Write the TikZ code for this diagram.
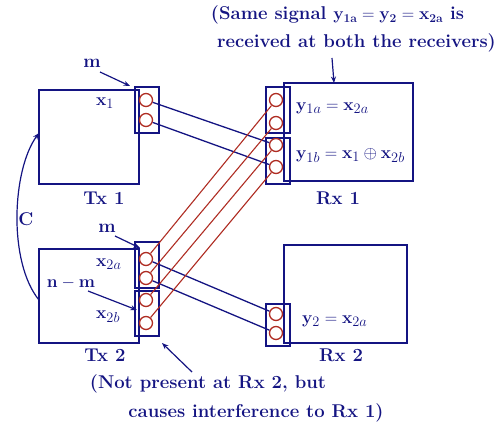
\documentclass[tikz,border=0pt]{standalone}
\usetikzlibrary{arrows.meta}
\definecolor{nav}{RGB}{20,20,130}
\definecolor{antc}{RGB}{175,45,35}
\begin{document}
\begin{tikzpicture}[x=1pt,y=-1pt,
  box/.style={draw=nav, line width=1.4pt, inner sep=0pt},
  antbox/.style={draw=nav, line width=1.4pt, minimum width=24pt, inner sep=0pt},
  ant/.style={circle, draw=antc, line width=1.3pt, minimum size=13pt, inner sep=0pt},
  lbl/.style={text=nav, font=\fontsize{18.5}{22}\selectfont\bfseries, inner sep=0pt},
  mlbl/.style={text=nav, font=\fontsize{19}{23}\selectfont\bfseries, inner sep=0pt, anchor=west},
  link/.style={draw=nav, line width=1.3pt},
  xlink/.style={draw=antc, line width=1.1pt},
  arr/.style={draw=nav, line width=1.2pt, -{Stealth[length=6.5pt,width=5pt]}}]
\useasboundingbox (0,0) rectangle (502,433);
% main boxes
\node[box, minimum width=100pt, minimum height=94pt] (tx1) at (89,137) {};
\node[box, minimum width=100pt, minimum height=94pt] (tx2) at (89,296) {};
\node[box, minimum width=129pt, minimum height=98pt] (rx1) at (348.5,132) {};
\node[box, minimum width=123pt, minimum height=98pt] (rx2) at (345.5,294) {};
% antenna boxes
\node[antbox, minimum height=46pt] (at1) at (147,110) {};
\node[antbox, minimum height=46pt] (at2a) at (147,265) {};
\node[antbox, minimum height=45pt] (at2b) at (147,313.5) {};
\node[antbox, minimum height=46pt] (ar1a) at (278,110) {};
\node[antbox, minimum height=46pt] (ar1b) at (278,161) {};
\node[antbox, minimum height=42pt] (ar2) at (278,325) {};
% antennas
\node[ant] (t1c1) at (146,100) {};
\node[ant] (t1c2) at (146,120) {};
\node[ant] (t2c1) at (146,259) {};
\node[ant] (t2c2) at (146,278) {};
\node[ant] (t2c3) at (146,300) {};
\node[ant] (t2c4) at (146,323) {};
\node[ant] (r1c1) at (276,100) {};
\node[ant] (r1c2) at (276,123) {};
\node[ant] (r1c3) at (276,145) {};
\node[ant] (r1c4) at (276,167) {};
\node[ant] (r2c1) at (276,314) {};
\node[ant] (r2c2) at (276,333) {};
% links
\draw[link] (t1c1) -- (r1c3);
\draw[link] (t1c2) -- (r1c4);
\draw[link] (t2c1) -- (r2c1);
\draw[link] (t2c2) -- (r2c2);
\draw[xlink] (t2c1) -- (r1c1);
\draw[xlink] (t2c2) -- (r1c2);
\draw[xlink] (t2c3) -- (r1c3);
\draw[xlink] (t2c4) -- (r1c4);
% labels
\node[mlbl] (x1) at (96,103) {$\mathbf{x}_1$};
\node[mlbl] (x2a) at (96,264) {$\mathbf{x}_{2a}$};
\node[mlbl] (x2b) at (96,317) {$\mathbf{x}_{2b}$};
\node[mlbl] (y1a) at (296,108) {$\mathbf{y}_{1a}=\mathbf{x}_{2a}$};
\node[mlbl] (y1b) at (296,155) {$\mathbf{y}_{1b}=\mathbf{x}_1\oplus\mathbf{x}_{2b}$};
\node[mlbl] (y2) at (302,321) {$\mathbf{y}_2=\mathbf{x}_{2a}$};
\node[lbl] (ltx1) at (104,198) {Tx 1};
\node[lbl] (lrx1) at (338,198) {Rx 1};
\node[lbl] (ltx2) at (105,355) {Tx 2};
\node[lbl] (lrx2) at (341,355) {Rx 2};
\node[lbl] (m1) at (92,63) {m};
\node[lbl] (m2) at (107,228) {m};
\node[lbl] (nm) at (71,283) {$\mathbf{n-m}$};
\node[lbl] (cc) at (26,219) {C};
\node[lbl] (top1) at (337.5,15) {(Same signal $\mathbf{y_{1a}=y_2=x_{2a}}$ is};
\node[lbl] (top2) at (356.5,43) {received at both the receivers)};
\node[lbl] (bot1) at (208,384) {(Not present at Rx 2, but};
\node[lbl] (bot2) at (256,413) {causes interference to Rx 1)};
% arrows
\coordinate (m1s) at (100,72);
\coordinate (m1e) at (130,86);
\coordinate (m2s) at (115,236);
\coordinate (m2e) at (140,248);
\coordinate (nms) at (88,291);
\coordinate (nme) at (137,310);
\coordinate (tops) at (332,58);
\coordinate (tope) at (334,83);
\coordinate (bots) at (192,372);
\coordinate (bote) at (162,343);
\coordinate (cs) at (39,300);
\coordinate (ce) at (39,133);
\draw[arr] (m1s) -- (m1e);
\draw[arr] (m2s) -- (m2e);
\draw[arr] (nms) -- (nme);
\draw[arr] (tops) -- (tope);
\draw[arr] (bots) -- (bote);
\draw[arr] (cs) .. controls (8,262) and (12,170) .. (ce);
\end{tikzpicture}
\end{document}
